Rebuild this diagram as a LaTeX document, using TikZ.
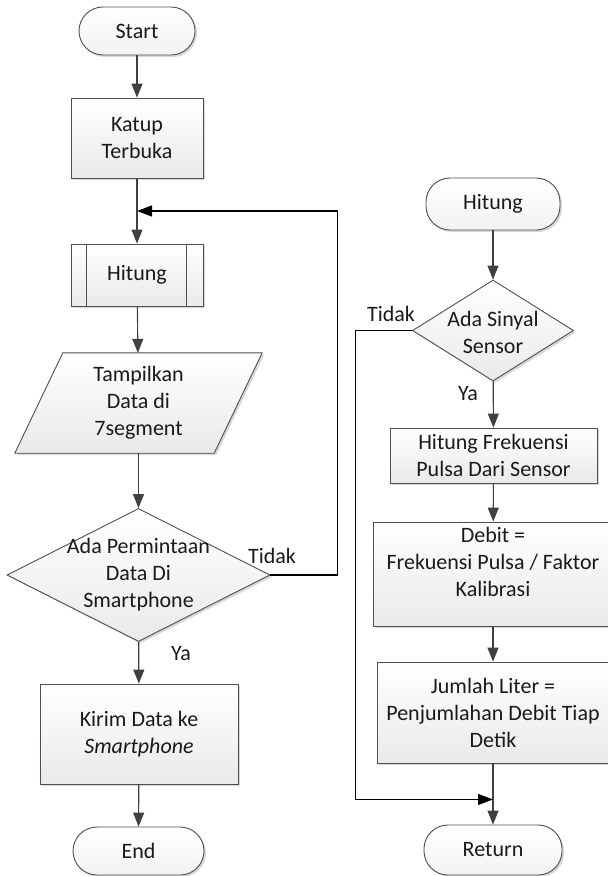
\documentclass[tikz,border=0pt]{standalone}
\usepackage{fontspec}
\setmainfont{Carlito}
\usetikzlibrary{shapes.geometric,shadows,arrows.meta,calc}
\definecolor{edgec}{HTML}{505050}
\definecolor{flowc}{HTML}{404040}
\definecolor{txtc}{HTML}{1A1A1A}
\begin{document}
\begin{tikzpicture}[x=1bp,y=-1bp,
  shapefill/.style={draw=edgec, line width=0.9bp, top color=white, bottom color=gray!17,
    drop shadow={shadow xshift=2bp, shadow yshift=-2bp, fill=gray!70, opacity=0.45}},
  txt/.style={font=\fontsize{22bp}{27bp}\selectfont, text=txtc, align=center, inner sep=0pt},
  procbox/.style={shapefill, txt, rectangle},
  termbox/.style={shapefill, txt, rectangle, rounded corners=24bp, top color=white, bottom color=gray!10},
  decbox/.style={shapefill, diamond, inner sep=0pt},
  arr/.style={draw=flowc, line width=1.1bp, -{Triangle[length=14bp,width=11bp]}},
  looparr/.style={draw=black, line width=1.1bp, -{Triangle[length=15bp,width=11bp]}},
  looplin/.style={draw=black, line width=1.1bp},
  lbl/.style={font=\fontsize{22bp}{27bp}\selectfont, text=txtc, inner sep=0pt}
]
\useasboundingbox (0,0) rectangle (608,876);

% ---------- left flow ----------
\node[termbox, minimum width=116bp, minimum height=48bp] (start) at (137,31) {Start};
\node[procbox, minimum width=132bp, minimum height=80bp] (katup) at (137,138) {Katup\\Terbuka};
\node[procbox, minimum width=132bp, minimum height=62bp] (hit) at (137,275) {Hitung};
\draw[edgec, line width=0.9bp] ($(hit.north west)+(16,0)$) -- ($(hit.south west)+(16,0)$);
\draw[edgec, line width=0.9bp] ($(hit.north east)+(-17,0)$) -- ($(hit.south east)+(-17,0)$);

\node[txt, minimum width=199bp, minimum height=100bp] (tamp) at (138.5,403) {};
\path[shapefill] ($(tamp.north west)+(24,0)$) -- ($(tamp.north east)+(24,0)$)
   -- ($(tamp.south east)+(-24,0)$) -- ($(tamp.south west)+(-24,0)$) -- cycle;
\node[txt] (tampt) at (tamp.center) {Tampilkan\\Data di\\7segment};

\node[decbox, minimum width=263bp, minimum height=133bp] (dec) at (138.5,575) {};
\node[txt] (dect) at (dec.center) {Ada Permintaan\\Data Di\\Smartphone};

\node[procbox, minimum width=198bp, minimum height=100bp] (kirim) at (139,734) {Kirim Data ke\\\textit{Smartphone}};
\node[termbox, minimum width=131bp, minimum height=48bp] (end) at (138.5,851) {End};

\coordinate (j1) at ($(katup.south)!0.5!(hit.north)$);

\draw[arr] (start) -- (katup);
\draw[arr] (katup) -- (hit);
\draw[arr] (hit) -- (tamp);
\draw[arr] (tamp) -- (dec);
\draw[arr] (dec) -- (kirim);
\draw[arr] (kirim) -- (end);
\draw[looparr] (dec.east) -- ++(67,0) |- (j1);

\node[lbl] (tidak1) at (272,556) {Tidak};
\node[lbl] (ya1) at (181,654) {Ya};

% ---------- right flow ----------
\node[termbox, minimum width=134bp, minimum height=52bp] (hit2) at (493,204) {Hitung};
\node[decbox, minimum width=161bp, minimum height=101bp] (dec2) at (493,330.5) {};
\node[txt] (dec2t) at ($(dec2.center)+(0,2)$) {Ada Sinyal\\Sensor};
\node[procbox, minimum width=207bp, minimum height=55bp] (frek) at (493.5,455.5) {Hitung Frekuensi\\Pulsa Dari Sensor};
\node[procbox, minimum width=240bp, minimum height=104bp] (debit) at (493,574) {};
\node[txt] (debitt) at ($(debit.center)+(0,-12)$) {Debit =\\Frekuensi Pulsa / Faktor\\Kalibrasi};
\node[procbox, minimum width=232bp, minimum height=101bp] (jml) at (493,712.5) {Jumlah Liter =\\Penjumlahan Debit Tiap\\Detik};
\node[termbox, minimum width=138bp, minimum height=50bp] (ret) at (493,850) {Return};

\coordinate (j2) at ($(jml.south)+(0,36)$);

\draw[arr] (hit2) -- (dec2);
\draw[arr] (dec2) -- (frek);
\draw[arr] (frek) -- (debit);
\draw[arr] (debit) -- (jml);
\draw[arr] (jml) -- (ret);
\draw[looparr] (dec2.west) -- ++(-57,0) |- (j2);

\node[lbl] (tidak2) at (391,314) {Tidak};
\node[lbl] (ya2) at (468,394) {Ya};
\end{tikzpicture}
\end{document}
